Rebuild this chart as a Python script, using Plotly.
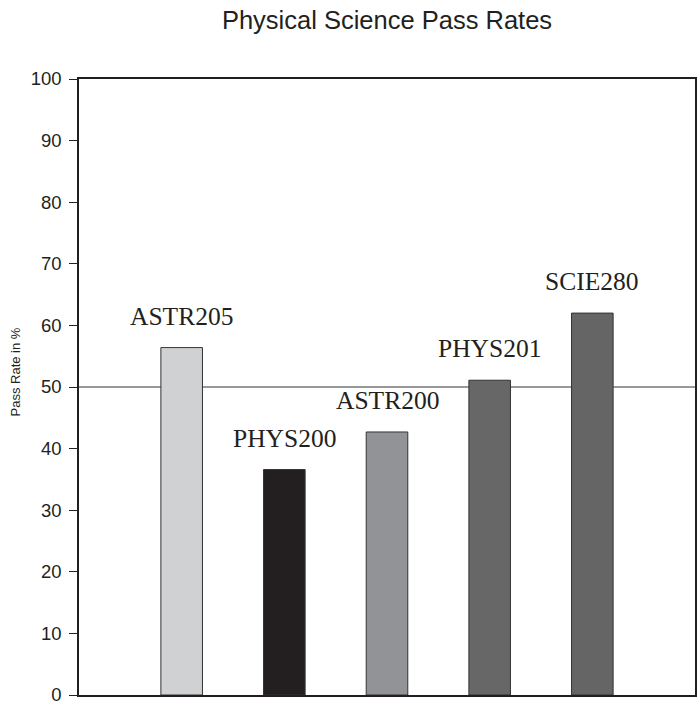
import plotly.graph_objects as go

courses = ["ASTR205", "PHYS200", "ASTR200", "PHYS201", "SCIE280"]
pass_rates = [56.4, 36.6, 42.7, 51.1, 62.0]
bar_colors = ["#d0d1d3", "#231f20", "#929396", "#676767", "#656566"]
y_ticks = [0, 10, 20, 30, 40, 50, 60, 70, 80, 90, 100]
reference_line = 50

xpos = list(range(len(courses)))

fig = go.Figure()
fig.add_trace(go.Bar(
    x=xpos, y=pass_rates, width=0.405,
    marker=dict(color=bar_colors, line=dict(color="#333333", width=1)),
    hoverinfo="skip", showlegend=False,
))

for xp, name, v in zip(xpos, courses, pass_rates):
    fig.add_annotation(
        x=xp, y=v, text=name, showarrow=False, xref="x", yref="y",
        yanchor="bottom", yshift=15,
        font=dict(family="Liberation Serif, Times New Roman, serif", size=25.5, color="#231f20"),
    )

fig.add_annotation(
    text="Pass Rate in %", textangle=-90, showarrow=False,
    xref="paper", yref="paper", x=-(79 - 15) / 616, y=(695.5 - 373) / 616,
    xanchor="center", yanchor="middle",
    font=dict(family="Liberation Sans, Arial, sans-serif", size=13, color="#231f20"),
)

fig.add_shape(type="line", xref="paper", yref="y", x0=0, x1=1,
              y0=reference_line, y1=reference_line,
              line=dict(color="#333333", width=1), layer="below")

fig.update_layout(
    width=697, height=702,
    margin=dict(l=79, r=2, t=79, b=7, autoexpand=False),
    paper_bgcolor="white", plot_bgcolor="white",
    title=dict(text="Physical Science Pass Rates", x=387 / 697, xanchor="center",
               y=1 - 20 / 702, yanchor="middle",
               font=dict(family="Liberation Sans, Arial, sans-serif", size=25.5, color="#231f20")),
    font=dict(family="Liberation Sans, Arial, sans-serif", color="#231f20"),
    xaxis=dict(range=[-1, 5], showticklabels=False, ticks="", showgrid=False,
               zeroline=False, showline=True, linecolor="#231f20", linewidth=1.5,
               mirror=True, fixedrange=True, automargin=False),
    yaxis=dict(range=[0, 100], tickvals=y_ticks, ticks="outside", ticklen=8,
               tickcolor="#231f20", tickwidth=1, showgrid=False, zeroline=False,
               showline=True, linecolor="#231f20", linewidth=1.5, mirror="ticks",
               tickfont=dict(size=18.5, color="#231f20"), ticklabelstandoff=4,
               ticklabeloverflow="allow",
               automargin=False, fixedrange=True),
)

fig.write_html("out.html")
